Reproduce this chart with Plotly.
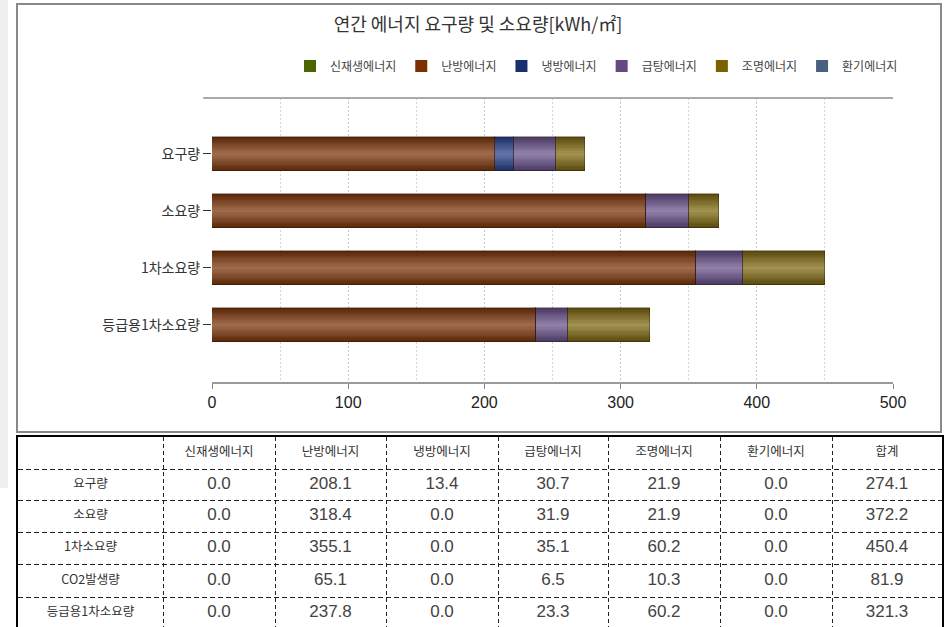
import plotly.graph_objects as go
import numpy as np

# ---------------- data ----------------
title_text = "연간 에너지 요구량 및 소요량[kWh/㎡]"
series_names = ["신재생에너지", "난방에너지", "냉방에너지", "급탕에너지", "조명에너지", "환기에너지"]
row_labels = ["요구량", "소요량", "1차소요량", "CO2발생량", "등급용1차소요량"]
renewable = [0.0, 0.0, 0.0, 0.0, 0.0]
heating = [208.1, 318.4, 355.1, 65.1, 237.8]
cooling = [13.4, 0.0, 0.0, 0.0, 0.0]
hot_water = [30.7, 31.9, 35.1, 6.5, 23.3]
lighting = [21.9, 21.9, 60.2, 10.3, 60.2]
ventilation = [0.0, 0.0, 0.0, 0.0, 0.0]
totals = [274.1, 372.2, 450.4, 81.9, 321.3]
total_label = "합계"
chart_rows = ["요구량", "소요량", "1차소요량", "등급용1차소요량"]
x_ticks = [0, 100, 200, 300, 400, 500]

series_values = [renewable, heating, cooling, hot_water, lighting, ventilation]

# ---------------- styles ----------------
swatch = ["#4b6500", "#7b3000", "#1a2f72", "#654a82", "#7a6200", "#4a6080"]
edge_col = ["#3a5200", "#562404", "#1a2a62", "#463660", "#564608", "#3a4a66"]
center_col = ["#7a9440", "#a46f50", "#6478ac", "#9585ad", "#a59654", "#7a8aa6"]

W, H = 950, 627
KR = "Noto Sans CJK KR"
NUM = "Liberation Sans, Arial"


def h2rgb(h):
    h = h.lstrip("#")
    return [int(h[i:i + 2], 16) for i in (0, 2, 4)]


def lerp(c1, c2, t):
    a, b = h2rgb(c1), h2rgb(c2)
    return "rgb(%d,%d,%d)" % tuple(round(a[i] + (b[i] - a[i]) * t) for i in range(3))


fig = go.Figure()

BW = 0.6
NL = 14
base = np.zeros(len(chart_rows))
for i, name in enumerate(series_names):
    vals = np.array([series_values[i][row_labels.index(r)] for r in chart_rows])
    fig.add_trace(go.Bar(
        y=chart_rows, x=vals, base=base.copy(), orientation="h", width=BW,
        marker=dict(color=swatch[i], line=dict(width=0)), name=name,
        showlegend=True, hoverinfo="skip", xaxis="x", yaxis="y"))
    if vals.sum() > 0:
        for k in range(NL):
            r = 1 - k / NL
            t = (1 - r) ** 0.9
            fig.add_trace(go.Bar(
                y=chart_rows, x=vals, base=base.copy(), orientation="h", width=BW * r,
                marker=dict(color=lerp(edge_col[i], center_col[i], t), line=dict(width=0)),
                showlegend=False, hoverinfo="skip", xaxis="x", yaxis="y"))
        fig.add_trace(go.Bar(
            y=chart_rows, x=vals, base=base.copy(), orientation="h", width=BW,
            marker=dict(color="rgba(0,0,0,0)", line=dict(width=1, color="rgba(45,25,15,0.4)")),
            showlegend=False, hoverinfo="skip", xaxis="x", yaxis="y"))
    base = base + vals

# ---------------- table as a cartesian subplot ----------------
col_edges = [18, 163, 275, 386, 498, 608, 720, 832, 942]
row_edges = [437, 469, 500, 532, 564, 597, 629]
col_centers = [(col_edges[j] + col_edges[j + 1]) / 2 for j in range(len(col_edges) - 1)]
row_centers = [(row_edges[j] + row_edges[j + 1]) / 2 for j in range(len(row_edges) - 1)]

header_cells = series_names + [total_label]
kx, ky, kt = [], [], []
for j, h in enumerate(header_cells):
    kx.append(col_centers[j + 1]); ky.append(row_centers[0]); kt.append(h)
for r, lab in enumerate(row_labels):
    kx.append(col_centers[0]); ky.append(row_centers[r + 1]); kt.append(lab)
fig.add_trace(go.Scatter(x=kx, y=ky, text=kt, mode="text", showlegend=False, hoverinfo="skip",
                         textfont=dict(family=KR, size=12.5, color="#333"),
                         textposition="middle center", xaxis="x2", yaxis="y2"))

nx, ny, nt = [], [], []
for r in range(len(row_labels)):
    vals = [series_values[s][r] for s in range(len(series_names))] + [totals[r]]
    for j, v in enumerate(vals):
        nx.append(col_centers[j + 1]); ny.append(row_centers[r + 1]); nt.append("%.1f" % v)
fig.add_trace(go.Scatter(x=nx, y=ny, text=nt, mode="text", showlegend=False, hoverinfo="skip",
                         textfont=dict(family=NUM, size=17, color="#444"),
                         textposition="middle center", xaxis="x2", yaxis="y2"))

# ---------------- layout ----------------
fig.update_layout(
    width=W, height=H, autosize=False,
    margin=dict(l=0, r=0, t=0, b=0, pad=0, autoexpand=False),
    paper_bgcolor="white", plot_bgcolor="rgba(0,0,0,0)",
    barmode="overlay", bargap=0,
    title=dict(text=title_text, x=478 / W, y=1 - 25 / H, xanchor="center", yanchor="middle",
               xref="paper", yref="paper",
               font=dict(family=KR, size=18, color="#333")),
    legend=dict(orientation="h", x=290 / W, xanchor="left", y=1 - 66 / H, yanchor="middle",
                font=dict(family=KR, size=12, color="#444"), bgcolor="rgba(0,0,0,0)",
                traceorder="normal", itemclick=False, itemdoubleclick=False),
    xaxis=dict(domain=[212 / W, 893 / W], range=[0, 500], tickvals=x_ticks,
               ticks="outside", ticklen=5, tickcolor="#888", tickwidth=1,
               showline=True, linecolor="#9a9a9a", linewidth=2,
               showgrid=True, gridcolor="#c4c4c4", griddash="2px,2px", gridwidth=1,
               minor=dict(dtick=50, tick0=0, showgrid=True, gridcolor="#d4d4d4", griddash="2px,2px"),
               zeroline=False, tickfont=dict(family=NUM, size=16, color="#222"), anchor="y"),
    yaxis=dict(domain=[1 - 382 / H, 1 - 98 / H], type="category", categoryorder="array",
               categoryarray=chart_rows, range=[4.0, -0.98], showgrid=False,
               ticks="outside", ticklen=8, tickcolor="#333", tickwidth=1,
               showline=False, zeroline=False,
               tickfont=dict(family=KR, size=14, color="#333"), anchor="x"),
    xaxis2=dict(domain=[18 / W, 942 / W], range=[18, 942], tickvals=col_edges[1:-1],
                showticklabels=False, ticks="", showgrid=True, gridcolor="#222",
                griddash="4px,3px", gridwidth=1, zeroline=False, side="top",
                showline=True, linecolor="#000", linewidth=2, anchor="y2"),
    yaxis2=dict(domain=[0, (H - 437) / H], range=[H, 437], tickvals=row_edges[1:-1],
                showticklabels=False, ticks="", showgrid=True, gridcolor="#222",
                griddash="5px,3px", gridwidth=1, zeroline=False,
                showline=True, mirror=True, linecolor="#000", linewidth=2, anchor="x2"),
    shapes=[
        dict(type="rect", xref="paper", yref="paper", x0=0, x1=8 / W, y0=1 - 488 / H, y1=1,
             fillcolor="#f0f0f0", line=dict(width=0), layer="below"),
        dict(type="rect", xref="paper", yref="paper", x0=17 / W, x1=941 / W,
             y0=1 - 432 / H, y1=1 - 4 / H, line=dict(color="#888", width=2),
             fillcolor="rgba(0,0,0,0)", layer="below"),
        dict(type="line", xref="x domain", yref="y domain", x0=-0.013, x1=1, y0=1, y1=1,
             line=dict(color="#aaa", width=2)),
    ],
)

fig.write_html(
    "out.html",
    config={"displayModeBar": False, "responsive": False},
    default_width="950px", default_height="627px",
    post_script="document.body.style.margin='0';document.body.style.overflow='hidden';"
                "document.documentElement.style.overflow='hidden';",
)
